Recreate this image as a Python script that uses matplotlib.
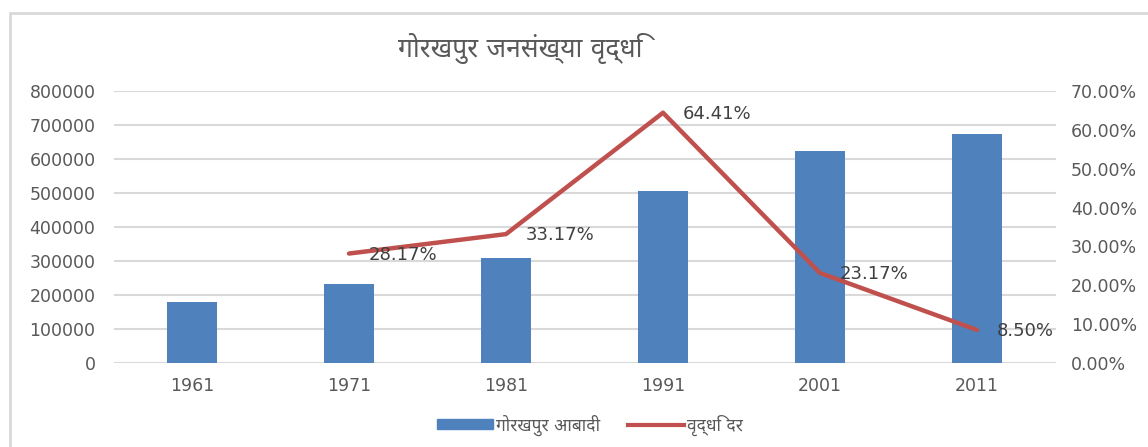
import matplotlib.pyplot as plt
import matplotlib.patches as mpatches
from matplotlib.lines import Line2D
from matplotlib.ticker import FuncFormatter

# data
years = ["1961", "1971", "1981", "1991", "2001", "2011"]
population = [180255, 230911, 307501, 505566, 622701, 673446]
growth_years = ["1971", "1981", "1991", "2001", "2011"]
growth = [28.17, 33.17, 64.41, 23.17, 8.50]

title = "गोरखपुर जनसंख्या वृद्धि"
bar_label = "गोरखपुर आबादी"
line_label = "वृद्धि दर"

blue = "#4F81BD"
red = "#C0504D"
grey = "#595959"

# DejaVu for the digits, Noto Sans for the Devanagari
plt.rcParams['font.family'] = ['DejaVu Sans', 'Noto Sans']

fig = plt.figure(figsize=(11.48, 4.47), dpi=100)
W, H = 1148, 447

# outer chart frame
fig.patches.append(mpatches.Rectangle((10 / W, -0.1), 1.2, 1 - 13 / H + 0.1,
                                      transform=fig.transFigure, fill=False,
                                      edgecolor="#D9D9D9", linewidth=2))

ax = fig.add_axes([113.5 / W, 1 - 363 / H, 942 / W, 272 / H])
ax2 = ax.twinx()

x = list(range(len(years)))
ax.bar(x, population, width=0.32, color=blue, zorder=2)
ax.set_ylim(0, 800000)
ax.set_xlim(-0.5, len(years) - 0.5)
ax.set_yticks(range(0, 800001, 100000))
ax.set_xticks(x)
ax.set_xticklabels(years)
ax.grid(axis="y", color="#D9D9D9", linewidth=1.5, zorder=0)
ax.set_axisbelow(True)

gx = [years.index(y) for y in growth_years]
ax2.plot(gx, growth, color=red, linewidth=3.2, solid_capstyle="round", zorder=3)
for xi, g in zip(gx, growth):
    ax2.annotate(f"{g:.2f}%", (xi, g), xytext=(14, -1), textcoords="offset points",
                 ha="left", va="center", fontsize=13, color="#404040")
ax2.set_ylim(0, 70)
ax2.set_yticks(range(0, 71, 10))
ax2.yaxis.set_major_formatter(FuncFormatter(lambda v, p: f"{v:.2f}%"))

for a in (ax, ax2):
    for s in a.spines.values():
        s.set_visible(False)
    a.tick_params(length=0, labelsize=12.5, labelcolor=grey)
ax.tick_params(axis="y", pad=13)
ax.tick_params(axis="x", pad=10)
ax2.tick_params(axis="y", pad=11)

fig.text(520 / W, 1 - 48 / H, title, ha="center", va="center",
         fontsize=19, color=grey)

handles = [mpatches.Patch(color=blue, label=bar_label),
           Line2D([0], [0], color=red, linewidth=3, label=line_label)]
fig.legend(handles=handles, loc="center", bbox_to_anchor=(590 / W, 1 - 425 / H),
           ncol=2, frameon=False, fontsize=12.5, labelcolor=grey,
           handlelength=3.2, handleheight=0.5, handletextpad=0.2, columnspacing=1.6)

fig.savefig("out.png", dpi=100)
